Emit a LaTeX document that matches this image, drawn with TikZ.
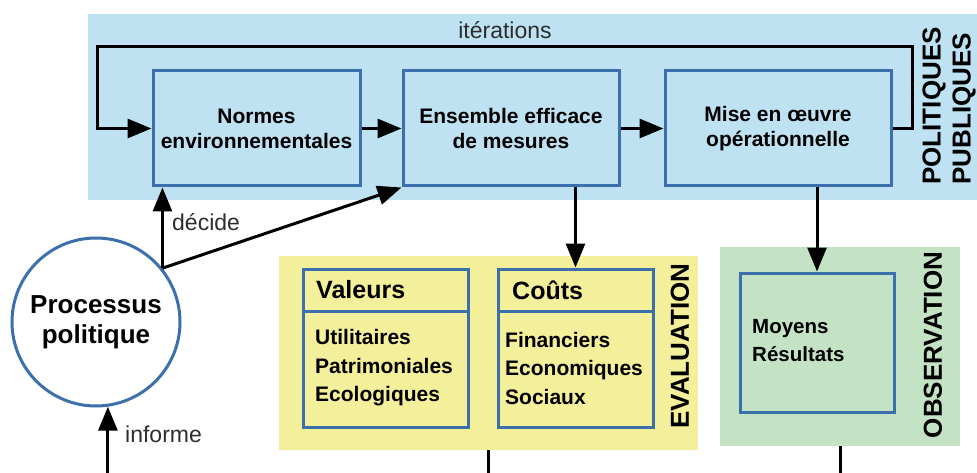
\documentclass[tikz,border=0pt]{standalone}
\usepackage{fontspec}
\setmainfont{Liberation Sans}
\usetikzlibrary{arrows.meta}
\definecolor{bandblue}{RGB}{190,226,242}
\definecolor{bandyellow}{RGB}{244,239,155}
\definecolor{bandgreen}{RGB}{196,227,197}
\definecolor{edgeblue}{RGB}{60,112,172}
\definecolor{labelgray}{RGB}{45,45,45}
\begin{document}
\begin{tikzpicture}[x=1pt,y=-1pt,
  band/.style={fill=#1, draw=none, inner sep=0pt},
  box/.style={draw=edgeblue, line width=3pt, inner sep=0pt, font=\bfseries\fontsize{21}{25}\selectfont, align=center},
  arr/.style={line width=3pt, -{Triangle[length=24pt,width=19pt]}},
  conn/.style={line width=3pt},
  lbl/.style={font=\fontsize{23}{26}\selectfont, text=labelgray, inner sep=0pt},
  side/.style={rotate=90, font=\bfseries\fontsize{26}{30}\selectfont, align=left, inner sep=0pt},
  head/.style={font=\bfseries\fontsize{25}{30}\selectfont, inner sep=0pt, anchor=west},
  items/.style={font=\bfseries\fontsize{21}{28.5}\selectfont, inner sep=0pt, anchor=west, align=left},
  divider/.style={draw=edgeblue, line width=3pt}
]
\useasboundingbox (0,0) rectangle (977,473);
\fill[white] (0,0) rectangle (977,473);

% bands
\node[band=bandblue, minimum width=889pt, minimum height=186pt] (pb) at (532.5,107) {};
\node[band=bandyellow, minimum width=419pt, minimum height=194pt] (yb) at (488.5,353) {};
\node[band=bandgreen, minimum width=240pt, minimum height=199pt] (gb) at (840,346.5) {};

% band titles
\node[side] (tpp) at (949,106) {POLITIQUES\\PUBLIQUES};
\node[side] (tev) at (680,346) {EVALUATION};
\node[side] (tob) at (933,345) {OBSERVATION};

% top boxes
\node[box, minimum width=207pt, minimum height=115pt] (norm) at (256.5,128.5) {Normes\\environnementales};
\node[box, minimum width=216pt, minimum height=115pt] (ens) at (511,128.5) {Ensemble efficace\\de mesures};
\node[box, minimum width=226pt, minimum height=115pt] (mise) at (778,128.5) {Mise en \oe uvre\\opérationnelle};

% circle
\node[circle, draw=edgeblue, line width=3pt, fill=white, minimum size=168pt, inner sep=0pt,
      font=\bfseries\fontsize{26}{30}\selectfont, align=center] (proc) at (96,322) {Processus\\politique};

% evaluation boxes
\coordinate (divy) at (0,311);
\node[box, minimum width=165pt, minimum height=158pt] (val) at (385.5,348) {};
\draw[divider] (val.west |- divy) -- (val.east |- divy);
\node[head] (valh) at (316,290) {Valeurs};
\node[items] (vali) at (315,368) {Utilitaires\\Patrimoniales\\Ecologiques};

\node[box, minimum width=155pt, minimum height=158pt] (cout) at (575.5,348) {};
\draw[divider] (cout.west |- divy) -- (cout.east |- divy);
\node[head] (couth) at (512,290) {Coûts};
\node[items] (couti) at (505,368) {Financiers\\Economiques\\Sociaux};

% observation box
\node[box, minimum width=154pt, minimum height=139pt] (moy) at (817,342.5) {};
\node[items, font=\bfseries\fontsize{20.5}{28}\selectfont] (moyi) at (752,341) {Moyens\\Résultats};

% connectors
\draw[arr] (norm) -- (ens);
\draw[arr] (ens) -- (mise);
\coordinate (itR) at (912,47);
\coordinate (itL) at (97,47);
\draw[arr] (mise.east) -| (itR) -- (itL) |- (norm.west);
\node[lbl] (itl) at (505,30) {itérations};

\draw[arr] (cout.north |- ens.south) -- (cout.north);
\draw[arr] (moy.north |- mise.south) -- (moy.north);

\coordinate (dec) at (proc.39);
\draw[arr] (dec) -- (dec |- norm.south);
\draw[arr] (dec) -- (ens.south west);
\node[lbl, anchor=west] (decl) at (172,222) {décide};

\coordinate (bottomy) at (0,473);
\coordinate (infb) at (proc.-82 |- bottomy);
\draw[arr] (infb) -- (proc.-82);
\node[lbl, anchor=west] (infl) at (125,434) {informe};

\draw[conn] (yb.south) -- (yb.south |- bottomy);
\draw[conn] (gb.south) -- (gb.south |- bottomy);
\end{tikzpicture}
\end{document}
